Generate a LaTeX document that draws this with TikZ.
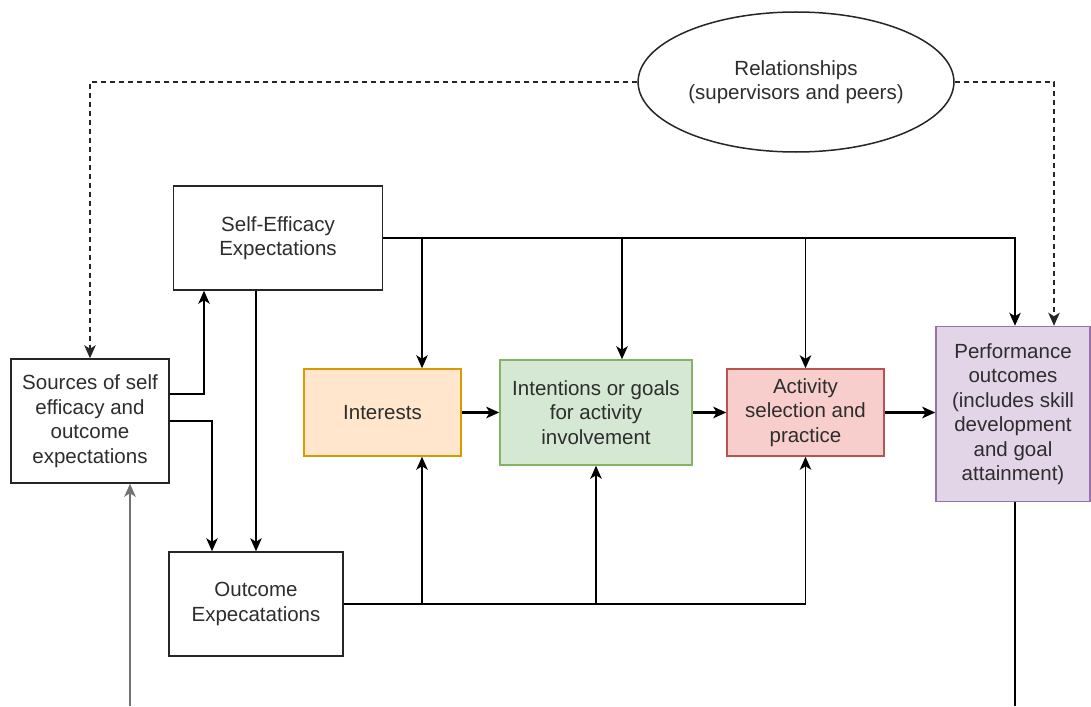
\documentclass[tikz,border=0pt]{standalone}
\usepackage{fontspec}
\setmainfont{Liberation Sans}
\usetikzlibrary{arrows.meta,shapes.geometric}
\definecolor{txt}{RGB}{45,45,45}
\definecolor{orfill}{HTML}{FFE6CC}\definecolor{ordraw}{HTML}{D79B00}
\definecolor{grfill}{HTML}{D5E8D4}\definecolor{grdraw}{HTML}{82B366}
\definecolor{rdfill}{HTML}{F8CECC}\definecolor{rddraw}{HTML}{B85450}
\definecolor{pufill}{HTML}{E1D5E7}\definecolor{pudraw}{HTML}{9673A6}
\tikzset{
  box/.style={draw=black!85, line width=1.5pt, fill=white, align=center,
    text=txt, inner sep=4pt, font=\fontsize{20.5}{24.5}\selectfont},
  tip/.tip={Stealth[length=13pt,width=11.5pt,inset=3.5pt]},
  arr/.style={line width=1.5pt, draw=black, -tip},
  chain/.style={arr, line width=2.4pt},
  link/.style={line width=1.5pt, draw=black},
  dotarr/.style={arr, dash pattern=on 5pt off 4pt, draw=black!85},
}
\begin{document}
\begin{tikzpicture}[x=1pt,y=-1pt]
\useasboundingbox (0,0) rectangle (1091,706);
\fill[white] (0,0) rectangle (1091,706);

% boxes
\node[box, ellipse, minimum width=314pt, minimum height=140pt] (rel) at (796,82)
  {Relationships\\(supervisors and peers)};
\node[box, minimum width=209pt, minimum height=104pt] (se) at (278,238)
  {Self-Efficacy\\Expectations};
\node[box, minimum width=158pt, minimum height=124pt] (src) at (90,421)
  {Sources of self\\efficacy and\\outcome\\expectations};
\node[box, minimum width=174pt, minimum height=104pt] (oc) at (256,604)
  {Outcome\\Expecatations};
\node[box, fill=orfill, draw=ordraw, minimum width=157pt, minimum height=87pt] (in) at (382.5,412.5)
  {Interests};
\node[box, fill=grfill, draw=grdraw, minimum width=192pt, minimum height=105pt] (it) at (596,412.5)
  {Intentions or goals\\for activity\\involvement};
\node[box, fill=rdfill, draw=rddraw, minimum width=157pt, minimum height=87pt] (ac) at (805.5,412.5)
  {Activity\\selection and\\practice};
\node[box, fill=pufill, draw=pudraw, minimum width=154pt, minimum height=175pt] (pf) at (1013,414)
  {Performance\\outcomes\\(includes skill\\development\\and goal\\attainment)};

% helper coordinates for routing
\coordinate (ya) at (0,394);
\coordinate (yb) at (0,412.5);
\coordinate (xa) at (204,0);
\coordinate (xb) at (212,0);
\coordinate (xc) at (422,0);
\coordinate (xd) at (622,0);
\coordinate (xp) at (1015,0);
\coordinate (xq) at (1054,0);
\coordinate (bl) at (130,706);
\coordinate (br) at (1015,706);

% relationships (dashed)
\draw[dotarr] (rel.west) -| (src.north);
\draw[dotarr] (rel.east) -| (xq |- pf.north);

% self-efficacy outputs
\draw[arr] (se.east) -| (xp |- pf.north);
\draw[arr] (xc |- se.east) -- (xc |- in.north);
\draw[arr] (xd |- se.east) -- (xd |- it.north);
\draw[arr] (ac.north |- se.east) -- (ac.north);
\draw[arr] (oc.north |- se.south) -- (oc.north);

% sources outputs
\draw[arr] (src.east |- ya) -| (xa |- se.south);
\draw[arr] (src.east) -| (xb |- oc.north);

% outcome expectations outputs
\draw[arr] (oc.east) -| (ac.south);
\draw[arr] (xc |- oc.east) -- (xc |- in.south);
\draw[arr] (it.south |- oc.east) -- (it.south);

% main chain
\draw[chain] (in.east |- yb) -- (it.west |- yb);
\draw[chain] (it.east |- yb) -- (ac.west |- yb);
\draw[chain] (ac.east |- yb) -- (pf.west |- yb);

% feedback lines
\draw[arr, draw=black!55, line width=1.8pt] (bl) -- (bl |- src.south);
\draw[link] (xp |- pf.south) -- (br);
\end{tikzpicture}
\end{document}
